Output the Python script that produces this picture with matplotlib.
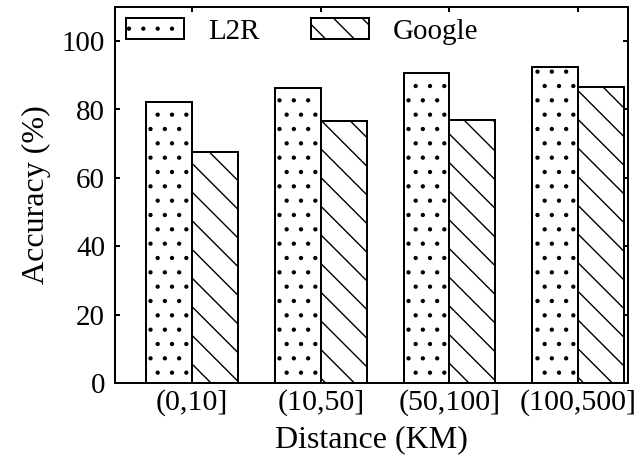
import matplotlib
matplotlib.use('Agg')
import matplotlib.pyplot as plt
import numpy as np

# Data
categories = ['(0,10]', '(10,50]', '(50,100]', '(100,500]']
l2r = [82.3, 86.2, 90.6, 92.3]
google = [67.5, 76.6, 76.8, 86.5]

# hatch spacing depends on dpi, 172 gives the reference spacing
DPI = 172


def px(v):
    # pixels -> points
    return v * 72.0 / DPI


plt.rcParams['font.family'] = ['Liberation Serif', 'DejaVu Serif']
plt.rcParams['hatch.linewidth'] = px(1.4)

W, H = 644, 461
fig = plt.figure(figsize=((W + 0.2) / DPI, (H + 0.2) / DPI), dpi=DPI)
ax = fig.add_axes([115 / W, (H - 383) / H, (628 - 115) / W, (383 - 7) / H])

x = np.arange(len(categories))
w = 0.357

ax.bar(x - w / 2, l2r, w, facecolor='white', edgecolor='black',
       linewidth=px(2), hatch='..', label='L2R')
ax.bar(x + w / 2, google, w, facecolor='white', edgecolor='black',
       linewidth=px(2), hatch='\\\\', label='Google')

ax.set_xlim(-0.6, 3.39)
ax.set_ylim(0, 110)
ax.set_xticks(x)
ax.set_xticklabels(categories, fontsize=px(30))
ax.set_yticks([0, 20, 40, 60, 80, 100])

ax.tick_params(direction='in', top=True, right=True, length=px(5),
               width=px(2), pad=px(10))
ax.tick_params(axis='y', labelsize=px(29))
ax.tick_params(axis='x', pad=px(6))
for s in ax.spines.values():
    s.set_linewidth(px(2))

ax.set_xlabel('Distance (KM)', fontsize=px(32), labelpad=px(9))
ax.set_ylabel('Accuracy (%)', fontsize=px(32), labelpad=px(11))

ax.legend(loc='upper left', ncol=2, frameon=False, fontsize=px(29),
          handlelength=2.0, handleheight=0.77, handletextpad=0.84,
          columnspacing=1.75, borderpad=0.0, borderaxespad=0.38)

fig.savefig('out.png', dpi=DPI)
plt.close()
